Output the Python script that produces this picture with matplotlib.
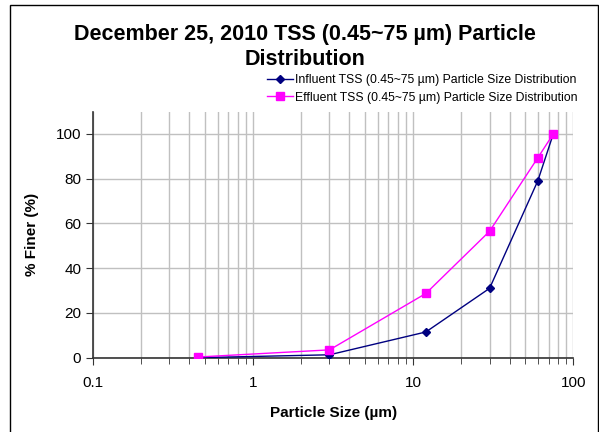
import matplotlib
matplotlib.use("Agg")
import matplotlib.pyplot as plt
from matplotlib.patches import Rectangle
from matplotlib.ticker import LogLocator, NullFormatter

plt.rcParams['font.family'] = ['Liberation Sans', 'DejaVu Sans']

particle_size = [0.45, 3, 12, 30, 60, 75]
influent = [0.0, 1.3, 11.5, 31.0, 79.0, 100.0]
effluent = [0.3, 3.5, 28.7, 56.5, 89.3, 100.0]
x_ticks = [0.1, 1, 10, 100]
x_tick_labels = ['0.1', '1', '10', '100']
y_ticks = [0, 20, 40, 60, 80, 100]

W, H = 599, 432
fig = plt.figure(figsize=(W/100, H/100), dpi=100)
ax = fig.add_axes([93/W, 1-357.7/H, (573.3-93)/W, (357.7-111.5)/H])

ax.set_xscale('log')
ax.set_xlim(0.1, 100)
ax.set_ylim(0, 110)

ax.plot(particle_size, influent, color='#000080', marker='D', markersize=4.2, lw=1.0,
        label='Influent TSS (0.45~75 µm) Particle Size Distribution', zorder=3)
ax.plot(particle_size, effluent, color='#ff00ff', marker='s', markersize=5.5, lw=1.0,
        label='Effluent TSS (0.45~75 µm) Particle Size Distribution', zorder=3)

ax.set_xticks(x_ticks)
ax.set_xticklabels(x_tick_labels, fontsize=11)
ax.xaxis.set_minor_locator(LogLocator(base=10, subs=range(2, 10)))
ax.xaxis.set_minor_formatter(NullFormatter())
ax.set_yticks(y_ticks)
ax.tick_params(axis='y', labelsize=11, direction='out', length=5, color='#333333')
ax.tick_params(axis='x', which='major', direction='out', length=5, color='#333333', pad=8)
ax.tick_params(axis='x', which='minor', direction='out', length=4, color='#333333')

ax.grid(True, which='major', axis='both', color='#c0c0c0', lw=1.0)
ax.grid(True, which='minor', axis='x', color='#c0c0c0', lw=1.0)
ax.set_axisbelow(True)
for s in ['top', 'right']:
    ax.spines[s].set_visible(False)
for s in ['left', 'bottom']:
    ax.spines[s].set_color('#333333')
    ax.spines[s].set_linewidth(1.2)

ax.set_xlabel('Particle Size (µm)', fontsize=11, fontweight='bold', labelpad=12)
ax.set_ylabel('% Finer (%)', fontsize=11, fontweight='bold', labelpad=12)

fig.text(305/W, 1-47/H, 'December 25, 2010 TSS (0.45~75 µm) Particle\nDistribution',
         ha='center', va='center', fontsize=15.5, fontweight='bold', linespacing=1.3)

leg = ax.legend(loc='upper left', bbox_to_anchor=(267/W, 1-74/H), bbox_transform=fig.transFigure,
                frameon=False, fontsize=8.85, handlelength=2.1, handletextpad=0.2,
                labelspacing=0.45, borderaxespad=0, borderpad=0)

fig.patches.append(Rectangle((10/W, -0.01), (597.5-10)/W, 1-5/H+0.01, transform=fig.transFigure,
                             fill=False, edgecolor='black', lw=1.0))

fig.savefig('out.png', dpi=100)
